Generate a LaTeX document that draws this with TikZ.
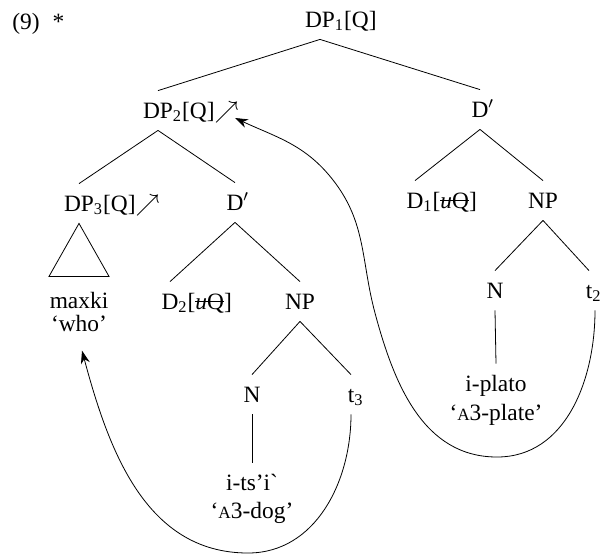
\documentclass[tikz,border=0pt]{standalone}
\usepackage{fontspec}
\setmainfont{Liberation Serif}
\newfontfamily\plainserif[Ligatures=TeXOff]{Liberation Serif}
\usetikzlibrary{arrows.meta}
\newcommand{\smA}{{\fontsize{8.6}{10}\selectfont A}}
\newsavebox{\strikebox}
\newcommand{\struck}[1]{\sbox{\strikebox}{#1}\rlap{\rule[.3em]{\wd\strikebox}{.45pt}}\usebox{\strikebox}}

\begin{document}
\begin{tikzpicture}[x=0.5pt,y=0.5pt,font=\fontsize{11.7}{14}\selectfont]
\tikzstyle{every node}+=[inner xsep=0pt]
\tikzstyle{cat}=[anchor=base,text height=9pt,text depth=1.5pt,inner ysep=4.5pt]
\tikzstyle{gloss}=[anchor=base,inner sep=0pt]
\tikzstyle{move}=[-{Stealth[length=6.5pt,width=4.5pt]}]
\useasboundingbox (0,0) rectangle (605,-554);
\node [anchor=base west,inner sep=0pt] (exno) at (12,-29) {(9)\hspace{6.5pt}*};
% top of the tree
\node [cat] (dpone) at (320,-27) {DP\rlap{\textsubscript{1}[Q]}};
\node [cat] (dptwo) at (158,-118) {DP\rlap{\textsubscript{2}[Q]$\nearrow$}};
\node [cat] (dbarr) at (480,-117) {D\rlap{$'$}};
\node [cat] (dpthree) at (79,-211) {DP\rlap{\textsubscript{3}[Q]$\nearrow$}};
\node [cat] (dbarl) at (235,-210) {D\rlap{$'$}};
\node [cat] (done) at (415,-208) {D\rlap{\textsubscript{1}[\struck{\textit{u}Q}]}};
\node [cat] (npr) at (543,-208) {NP};
\node [cat] (dtwo) at (170,-309) {D\rlap{\textsubscript{2}[\struck{\textit{u}Q}]}};
\node [cat] (npl) at (300,-309) {NP};
\node [cat] (nr) at (495,-298) {N};
\node [cat] (tr) at (589,-298) {t\rlap{\textsubscript{2}}};
\node [cat] (nl) at (252,-402) {N};
\node [cat] (tl) at (351,-402) {t\rlap{\textsubscript{3}}};
% leaves
\node [cat] (maxki) at (79,-308) {maxki};
\node [gloss] (who) at (79,-331) {`who'};
\node [cat] (plato) at (496,-391) {i-plato};
\node [gloss] (platogl) at (496,-420) {`\smA3-plate'};
\node [cat] (tsi) at (252,-490) {i-ts'i{\plainserif\symbol{96}}};
\node [gloss] (tsigl) at (252,-518) {`\smA3-dog'};

\draw (dpone.south) -- (dptwo.north);
\draw (dpone.south) -- (dbarr.north);
\draw (dptwo.south) -- (dpthree.north);
\draw (dptwo.south) -- (dbarl.north);
\draw (dbarr.south) -- (done.north);
\draw (dbarr.south) -- (npr.north);
\draw (dpthree.south) -- ++(-30,-53) -- ++(60,0) -- cycle;
\draw (dbarl.south) -- (dtwo.north);
\draw (dbarl.south) -- (npl.north);
\draw (npr.south) -- (nr.north);
\draw (npr.south) -- (tr.north);
\draw (nr.south) -- (plato.north);
\draw (npl.south) -- (nl.north);
\draw (npl.south) -- (tl.north);
\draw (nl.south) -- (tsi.north);

% movement arrows
\coordinate (dptwoend) at (235,-118);
\draw [move] ([xshift=3pt]tr.south) to[out=-90,in=0] (497,-457) to[out=180,in=-75] (375,-313)
  to[out=105,in=-52] (333,-180) to[out=128,in=-25] (dptwoend);
\draw [move] (tl.south) to[out=-90,in=0] (248,-553) to[out=180,in=-75] ([xshift=1.5pt,yshift=-9.5pt]who.south);

\end{tikzpicture}
\end{document}
